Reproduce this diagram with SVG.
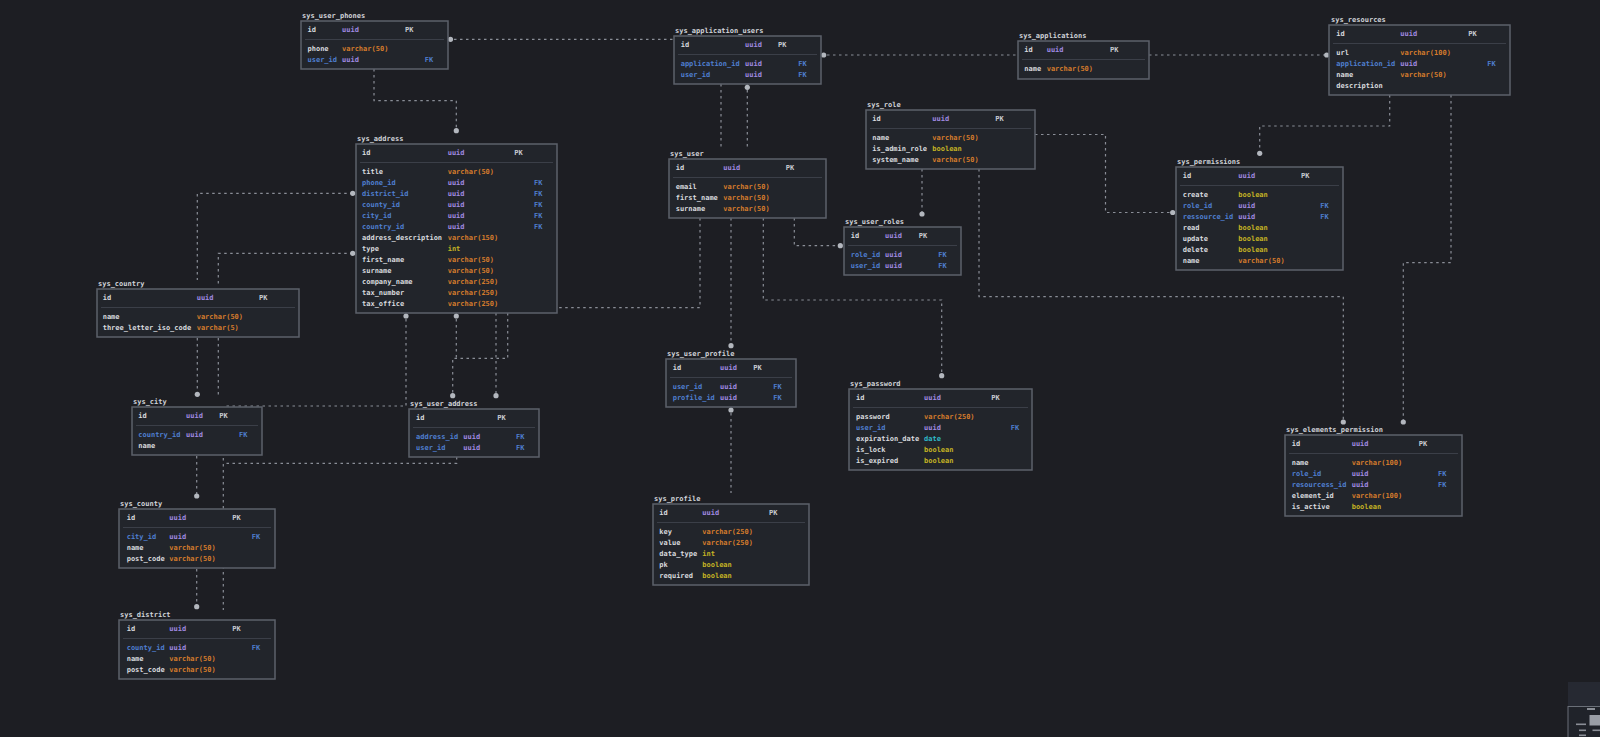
<svg xmlns="http://www.w3.org/2000/svg" width="1600" height="737" viewBox="0 0 1600 737">
<style>
text{font-family:"DejaVu Sans Mono","Liberation Mono",monospace;font-size:7px;font-weight:bold}
.bg{fill:#1d1e23}
.tb{fill:#22252b;stroke:#5c616b;stroke-width:1.5}
.sep{stroke:#3b3f48;stroke-width:1}
.lbl{fill:#d0d3d8}
.n{fill:#d8dade}
.fk{fill:#4f7fd0}
.u{fill:#a08ae2}
.v{fill:#d47b2c}
.b{fill:#c4b324}
.d{fill:#2fbac8}
.k{fill:#c9ccd2}
.kf{fill:#4f7fd0}
.c{fill:none;stroke:#8a8e97;stroke-width:1.2;stroke-dasharray:2.5 3.5}
.dot{fill:#b3b7be}
</style>
<rect class="bg" x="0" y="0" width="1600" height="737"/>

<g id="connectors">
<path class="c" d="M448,39.3 H674"/>
<path class="c" d="M374,69 V100.7 H456.3 V130.7"/>
<path class="c" d="M352.7,193.3 H197.3 V280 M197.3,338 V394.3"/>
<path class="c" d="M352.7,253.3 H218.3 V284 M218.3,338 V397.7"/>
<path class="c" d="M406,313 V406 H223"/>
<path class="c" d="M456.3,313 V358.3"/>
<path class="c" d="M507.7,313 V358.3 H452.7 V395.7"/>
<path class="c" d="M496,313 V395.7"/>
<path class="c" d="M700,218 V307.7 H557"/>
<path class="c" d="M456.7,457 V463.3 H223.3 M223.3,458 V610"/>
<path class="c" d="M196.7,456 V496"/>
<path class="c" d="M196.7,569 V606.7"/>
<path class="c" d="M721,84 V147"/>
<path class="c" d="M747.3,84 V147"/>
<path class="c" d="M821,55 H1018"/>
<path class="c" d="M1149,55 H1329"/>
<path class="c" d="M731,218 V345.7"/>
<path class="c" d="M763.3,218 V300 H941.7 V375.7"/>
<path class="c" d="M794.3,218 V245.7 H840.3"/>
<path class="c" d="M922,169 V214"/>
<path class="c" d="M979,169 V296.7 H1343.3 V422"/>
<path class="c" d="M1035,134.5 H1105.5 V212.5 H1172.7"/>
<path class="c" d="M1389.7,95 V126 H1259.7 V153.3"/>
<path class="c" d="M1451,95 V262.7 H1403.3 V422"/>
<path class="c" d="M731,407 V493"/>
<circle class="dot" cx="450.5" cy="39.3" r="2.6"/>
<circle class="dot" cx="456.3" cy="130.7" r="2.6"/>
<circle class="dot" cx="352.7" cy="193.3" r="2.6"/>
<circle class="dot" cx="197.3" cy="394.3" r="2.6"/>
<circle class="dot" cx="352.7" cy="253.3" r="2.6"/>
<circle class="dot" cx="406" cy="316" r="2.6"/>
<circle class="dot" cx="456.3" cy="316" r="2.6"/>
<circle class="dot" cx="452.7" cy="395.7" r="2.6"/>
<circle class="dot" cx="496" cy="395.7" r="2.6"/>
<circle class="dot" cx="196.7" cy="496" r="2.6"/>
<circle class="dot" cx="196.7" cy="606.7" r="2.6"/>
<circle class="dot" cx="747.3" cy="87.3" r="2.6"/>
<circle class="dot" cx="823.7" cy="55" r="2.6"/>
<circle class="dot" cx="1326.7" cy="55" r="2.6"/>
<circle class="dot" cx="731" cy="345.7" r="2.6"/>
<circle class="dot" cx="941.7" cy="375.7" r="2.6"/>
<circle class="dot" cx="840.3" cy="245.7" r="2.6"/>
<circle class="dot" cx="922" cy="214" r="2.6"/>
<circle class="dot" cx="1343.3" cy="422" r="2.6"/>
<circle class="dot" cx="1172.7" cy="212.5" r="2.6"/>
<circle class="dot" cx="1259.7" cy="153.3" r="2.6"/>
<circle class="dot" cx="1403.3" cy="422" r="2.6"/>
<circle class="dot" cx="731" cy="410" r="2.6"/>
</g>

<g id="sys_user_phones">
<text class="lbl" x="302" y="18">sys_user_phones</text>
<rect class="tb" x="301" y="21" width="147" height="48"/>
<line class="sep" x1="305" y1="39.5" x2="444" y2="39.5"/>
<text class="n" x="307.5" y="31.5">id</text><text class="u" x="342" y="31.5">uuid</text><text class="k" x="405" y="31.5">PK</text>
<text class="n" x="307.5" y="50.5">phone</text><text class="v" x="342" y="50.5">varchar(50)</text>
<text class="fk" x="307.5" y="61.5">user_id</text><text class="u" x="342" y="61.5">uuid</text><text class="kf" x="424.7" y="61.5">FK</text>
</g>

<g id="sys_application_users">
<text class="lbl" x="675" y="33">sys_application_users</text>
<rect class="tb" x="674" y="36" width="147" height="48"/>
<line class="sep" x1="678" y1="54.5" x2="817" y2="54.5"/>
<text class="n" x="680.7" y="46.5">id</text><text class="u" x="745" y="46.5">uuid</text><text class="k" x="778" y="46.5">PK</text>
<text class="fk" x="680.7" y="65.5">application_id</text><text class="u" x="745" y="65.5">uuid</text><text class="kf" x="798.3" y="65.5">FK</text>
<text class="fk" x="680.7" y="76.5">user_id</text><text class="u" x="745" y="76.5">uuid</text><text class="kf" x="798.3" y="76.5">FK</text>
</g>

<g id="sys_applications">
<text class="lbl" x="1019" y="38">sys_applications</text>
<rect class="tb" x="1018" y="41" width="131" height="38"/>
<line class="sep" x1="1022" y1="59.5" x2="1145" y2="59.5"/>
<text class="n" x="1024.3" y="51.5">id</text><text class="u" x="1046.7" y="51.5">uuid</text><text class="k" x="1110" y="51.5">PK</text>
<text class="n" x="1024.3" y="70.5">name</text><text class="v" x="1046.7" y="70.5">varchar(50)</text>
</g>

<g id="sys_resources">
<text class="lbl" x="1331" y="22">sys_resources</text>
<rect class="tb" x="1329" y="25" width="181" height="70"/>
<line class="sep" x1="1333" y1="43.5" x2="1506" y2="43.5"/>
<text class="n" x="1336.3" y="35.5">id</text><text class="u" x="1400.3" y="35.5">uuid</text><text class="k" x="1468.3" y="35.5">PK</text>
<text class="n" x="1336.3" y="54.5">url</text><text class="v" x="1400.3" y="54.5">varchar(100)</text>
<text class="fk" x="1336.3" y="65.5">application_id</text><text class="u" x="1400.3" y="65.5">uuid</text><text class="kf" x="1487.3" y="65.5">FK</text>
<text class="n" x="1336.3" y="76.5">name</text><text class="v" x="1400.3" y="76.5">varchar(50)</text>
<text class="n" x="1336.3" y="87.5">description</text>
</g>

<g id="sys_role">
<text class="lbl" x="867" y="107">sys_role</text>
<rect class="tb" x="866" y="110" width="169" height="59"/>
<line class="sep" x1="870" y1="128.5" x2="1031" y2="128.5"/>
<text class="n" x="872.3" y="120.5">id</text><text class="u" x="932.3" y="120.5">uuid</text><text class="k" x="995.3" y="120.5">PK</text>
<text class="n" x="872.3" y="139.5">name</text><text class="v" x="932.3" y="139.5">varchar(50)</text>
<text class="n" x="872.3" y="150.5">is_admin_role</text><text class="b" x="932.3" y="150.5">boolean</text>
<text class="n" x="872.3" y="161.5">system_name</text><text class="v" x="932.3" y="161.5">varchar(50)</text>
</g>

<g id="sys_permissions">
<text class="lbl" x="1177" y="164">sys_permissions</text>
<rect class="tb" x="1176" y="167" width="167" height="103"/>
<line class="sep" x1="1180" y1="185.5" x2="1339" y2="185.5"/>
<text class="n" x="1182.7" y="177.5">id</text><text class="u" x="1238.3" y="177.5">uuid</text><text class="k" x="1301" y="177.5">PK</text>
<text class="n" x="1182.7" y="196.5">create</text><text class="b" x="1238.3" y="196.5">boolean</text>
<text class="fk" x="1182.7" y="207.5">role_id</text><text class="u" x="1238.3" y="207.5">uuid</text><text class="kf" x="1320.3" y="207.5">FK</text>
<text class="fk" x="1182.7" y="218.5">ressource_id</text><text class="u" x="1238.3" y="218.5">uuid</text><text class="kf" x="1320.3" y="218.5">FK</text>
<text class="n" x="1182.7" y="229.5">read</text><text class="b" x="1238.3" y="229.5">boolean</text>
<text class="n" x="1182.7" y="240.5">update</text><text class="b" x="1238.3" y="240.5">boolean</text>
<text class="n" x="1182.7" y="251.5">delete</text><text class="b" x="1238.3" y="251.5">boolean</text>
<text class="n" x="1182.7" y="262.5">name</text><text class="v" x="1238.3" y="262.5">varchar(50)</text>
</g>

<g id="sys_user">
<text class="lbl" x="670" y="156">sys_user</text>
<rect class="tb" x="669" y="159" width="157" height="59"/>
<line class="sep" x1="673" y1="177.5" x2="822" y2="177.5"/>
<text class="n" x="675.7" y="169.5">id</text><text class="u" x="723.3" y="169.5">uuid</text><text class="k" x="785.7" y="169.5">PK</text>
<text class="n" x="675.7" y="188.5">email</text><text class="v" x="723.3" y="188.5">varchar(50)</text>
<text class="n" x="675.7" y="199.5">first_name</text><text class="v" x="723.3" y="199.5">varchar(50)</text>
<text class="n" x="675.7" y="210.5">surname</text><text class="v" x="723.3" y="210.5">varchar(50)</text>
</g>

<g id="sys_user_roles">
<text class="lbl" x="845" y="224">sys_user_roles</text>
<rect class="tb" x="844" y="227" width="117" height="48"/>
<line class="sep" x1="848" y1="245.5" x2="957" y2="245.5"/>
<text class="n" x="850.7" y="237.5">id</text><text class="u" x="885" y="237.5">uuid</text><text class="k" x="918.7" y="237.5">PK</text>
<text class="fk" x="850.7" y="256.5">role_id</text><text class="u" x="885" y="256.5">uuid</text><text class="kf" x="938.3" y="256.5">FK</text>
<text class="fk" x="850.7" y="267.5">user_id</text><text class="u" x="885" y="267.5">uuid</text><text class="kf" x="938.3" y="267.5">FK</text>
</g>

<g id="sys_address">
<text class="lbl" x="357" y="141">sys_address</text>
<rect class="tb" x="356" y="144" width="201" height="169"/>
<line class="sep" x1="360" y1="162.5" x2="553" y2="162.5"/>
<text class="n" x="362" y="154.5">id</text><text class="u" x="447.7" y="154.5">uuid</text><text class="k" x="514.3" y="154.5">PK</text>
<text class="n" x="362" y="173.5">title</text><text class="v" x="447.7" y="173.5">varchar(50)</text>
<text class="fk" x="362" y="184.5">phone_id</text><text class="u" x="447.7" y="184.5">uuid</text><text class="kf" x="534" y="184.5">FK</text>
<text class="fk" x="362" y="195.5">district_id</text><text class="u" x="447.7" y="195.5">uuid</text><text class="kf" x="534" y="195.5">FK</text>
<text class="fk" x="362" y="206.5">county_id</text><text class="u" x="447.7" y="206.5">uuid</text><text class="kf" x="534" y="206.5">FK</text>
<text class="fk" x="362" y="217.5">city_id</text><text class="u" x="447.7" y="217.5">uuid</text><text class="kf" x="534" y="217.5">FK</text>
<text class="fk" x="362" y="228.5">country_id</text><text class="u" x="447.7" y="228.5">uuid</text><text class="kf" x="534" y="228.5">FK</text>
<text class="n" x="362" y="239.5">address_description</text><text class="v" x="447.7" y="239.5">varchar(150)</text>
<text class="n" x="362" y="250.5">type</text><text class="b" x="447.7" y="250.5">int</text>
<text class="n" x="362" y="261.5">first_name</text><text class="v" x="447.7" y="261.5">varchar(50)</text>
<text class="n" x="362" y="272.5">surname</text><text class="v" x="447.7" y="272.5">varchar(50)</text>
<text class="n" x="362" y="283.5">company_name</text><text class="v" x="447.7" y="283.5">varchar(250)</text>
<text class="n" x="362" y="294.5">tax_number</text><text class="v" x="447.7" y="294.5">varchar(250)</text>
<text class="n" x="362" y="305.5">tax_office</text><text class="v" x="447.7" y="305.5">varchar(250)</text>
</g>

<g id="sys_country">
<text class="lbl" x="98" y="286">sys_country</text>
<rect class="tb" x="97" y="289" width="202" height="48"/>
<line class="sep" x1="101" y1="307.5" x2="295" y2="307.5"/>
<text class="n" x="102.7" y="299.5">id</text><text class="u" x="196.7" y="299.5">uuid</text><text class="k" x="259" y="299.5">PK</text>
<text class="n" x="102.7" y="318.5">name</text><text class="v" x="196.7" y="318.5">varchar(50)</text>
<text class="n" x="102.7" y="329.5">three_letter_iso_code</text><text class="v" x="196.7" y="329.5">varchar(5)</text>
</g>

<g id="sys_city">
<text class="lbl" x="133" y="404">sys_city</text>
<rect class="tb" x="132" y="407" width="130" height="48"/>
<line class="sep" x1="136" y1="425.5" x2="258" y2="425.5"/>
<text class="n" x="138.3" y="417.5">id</text><text class="u" x="186" y="417.5">uuid</text><text class="k" x="219.3" y="417.5">PK</text>
<text class="fk" x="138.3" y="436.5">country_id</text><text class="u" x="186" y="436.5">uuid</text><text class="kf" x="239" y="436.5">FK</text>
<text class="n" x="138.3" y="447.5">name</text>
</g>

<g id="sys_user_address">
<text class="lbl" x="410" y="406">sys_user_address</text>
<rect class="tb" x="409" y="409" width="130" height="48"/>
<line class="sep" x1="413" y1="427.5" x2="535" y2="427.5"/>
<text class="n" x="416" y="419.5">id</text><text class="k" x="497.3" y="419.5">PK</text>
<text class="fk" x="416" y="438.5">address_id</text><text class="u" x="463.3" y="438.5">uuid</text><text class="kf" x="516" y="438.5">FK</text>
<text class="fk" x="416" y="449.5">user_id</text><text class="u" x="463.3" y="449.5">uuid</text><text class="kf" x="516" y="449.5">FK</text>
</g>

<g id="sys_county">
<text class="lbl" x="120" y="506">sys_county</text>
<rect class="tb" x="119" y="509" width="156" height="59"/>
<line class="sep" x1="123" y1="527.5" x2="271" y2="527.5"/>
<text class="n" x="126.7" y="519.5">id</text><text class="u" x="169.3" y="519.5">uuid</text><text class="k" x="232.3" y="519.5">PK</text>
<text class="fk" x="126.7" y="538.5">city_id</text><text class="u" x="169.3" y="538.5">uuid</text><text class="kf" x="251.7" y="538.5">FK</text>
<text class="n" x="126.7" y="549.5">name</text><text class="v" x="169.3" y="549.5">varchar(50)</text>
<text class="n" x="126.7" y="560.5">post_code</text><text class="v" x="169.3" y="560.5">varchar(50)</text>
</g>

<g id="sys_district">
<text class="lbl" x="120" y="617">sys_district</text>
<rect class="tb" x="119" y="620" width="156" height="59"/>
<line class="sep" x1="123" y1="638.5" x2="271" y2="638.5"/>
<text class="n" x="126.7" y="630.5">id</text><text class="u" x="169.3" y="630.5">uuid</text><text class="k" x="232.3" y="630.5">PK</text>
<text class="fk" x="126.7" y="649.5">county_id</text><text class="u" x="169.3" y="649.5">uuid</text><text class="kf" x="251.7" y="649.5">FK</text>
<text class="n" x="126.7" y="660.5">name</text><text class="v" x="169.3" y="660.5">varchar(50)</text>
<text class="n" x="126.7" y="671.5">post_code</text><text class="v" x="169.3" y="671.5">varchar(50)</text>
</g>

<g id="sys_user_profile">
<text class="lbl" x="667" y="356">sys_user_profile</text>
<rect class="tb" x="666" y="359" width="130" height="48"/>
<line class="sep" x1="670" y1="377.5" x2="792" y2="377.5"/>
<text class="n" x="672.7" y="369.5">id</text><text class="u" x="720" y="369.5">uuid</text><text class="k" x="753.3" y="369.5">PK</text>
<text class="fk" x="672.7" y="388.5">user_id</text><text class="u" x="720" y="388.5">uuid</text><text class="kf" x="773.3" y="388.5">FK</text>
<text class="fk" x="672.7" y="399.5">profile_id</text><text class="u" x="720" y="399.5">uuid</text><text class="kf" x="773.3" y="399.5">FK</text>
</g>

<g id="sys_password">
<text class="lbl" x="850" y="386">sys_password</text>
<rect class="tb" x="849" y="389" width="183" height="81"/>
<line class="sep" x1="853" y1="407.5" x2="1028" y2="407.5"/>
<text class="n" x="856" y="399.5">id</text><text class="u" x="924" y="399.5">uuid</text><text class="k" x="991.3" y="399.5">PK</text>
<text class="n" x="856" y="418.5">password</text><text class="v" x="924" y="418.5">varchar(250)</text>
<text class="fk" x="856" y="429.5">user_id</text><text class="u" x="924" y="429.5">uuid</text><text class="kf" x="1010.7" y="429.5">FK</text>
<text class="n" x="856" y="440.5">expiration_date</text><text class="d" x="924" y="440.5">date</text>
<text class="n" x="856" y="451.5">is_lock</text><text class="b" x="924" y="451.5">boolean</text>
<text class="n" x="856" y="462.5">is_expired</text><text class="b" x="924" y="462.5">boolean</text>
</g>

<g id="sys_profile">
<text class="lbl" x="654" y="501">sys_profile</text>
<rect class="tb" x="653" y="504" width="156" height="81"/>
<line class="sep" x1="657" y1="522.5" x2="805" y2="522.5"/>
<text class="n" x="659.3" y="514.5">id</text><text class="u" x="702.3" y="514.5">uuid</text><text class="k" x="769" y="514.5">PK</text>
<text class="n" x="659.3" y="533.5">key</text><text class="v" x="702.3" y="533.5">varchar(250)</text>
<text class="n" x="659.3" y="544.5">value</text><text class="v" x="702.3" y="544.5">varchar(250)</text>
<text class="n" x="659.3" y="555.5">data_type</text><text class="b" x="702.3" y="555.5">int</text>
<text class="n" x="659.3" y="566.5">pk</text><text class="b" x="702.3" y="566.5">boolean</text>
<text class="n" x="659.3" y="577.5">required</text><text class="b" x="702.3" y="577.5">boolean</text>
</g>

<g id="sys_elements_permission">
<text class="lbl" x="1286" y="432">sys_elements_permission</text>
<rect class="tb" x="1285" y="435" width="177" height="81"/>
<line class="sep" x1="1289" y1="453.5" x2="1458" y2="453.5"/>
<text class="n" x="1291.7" y="445.5">id</text><text class="u" x="1351.7" y="445.5">uuid</text><text class="k" x="1418.7" y="445.5">PK</text>
<text class="n" x="1291.7" y="464.5">name</text><text class="v" x="1351.7" y="464.5">varchar(100)</text>
<text class="fk" x="1291.7" y="475.5">role_id</text><text class="u" x="1351.7" y="475.5">uuid</text><text class="kf" x="1438" y="475.5">FK</text>
<text class="fk" x="1291.7" y="486.5">resourcess_id</text><text class="u" x="1351.7" y="486.5">uuid</text><text class="kf" x="1438" y="486.5">FK</text>
<text class="n" x="1291.7" y="497.5">element_id</text><text class="v" x="1351.7" y="497.5">varchar(100)</text>
<text class="n" x="1291.7" y="508.5">is_active</text><text class="b" x="1351.7" y="508.5">boolean</text>
</g>

<g id="minimap">
<rect x="1568" y="682" width="32" height="25" fill="#262932"/>
<rect x="1568" y="706.5" width="33" height="31" fill="#20232a" stroke="#6a6f78" stroke-width="1"/>
<rect x="1587" y="708" width="8" height="2" fill="#8a8e96"/>
<rect x="1589.5" y="715" width="10.5" height="10.5" fill="#9a9ea6"/>
<rect x="1576" y="723.5" width="10" height="1.6" fill="#8a8e96"/>
<rect x="1579" y="729.5" width="7" height="1.6" fill="#8a8e96"/>
<rect x="1592.5" y="729.5" width="7.5" height="1.6" fill="#8a8e96"/>
<rect x="1579" y="734.5" width="7" height="1.6" fill="#8a8e96"/>
</g>
</svg>
